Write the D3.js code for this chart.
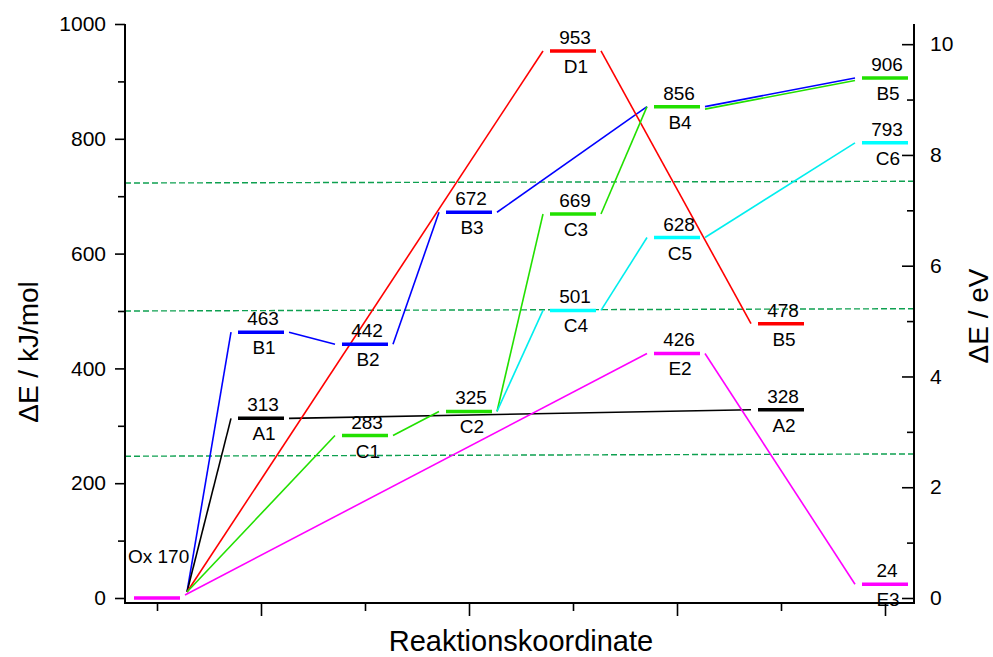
<!DOCTYPE html>
<html>
<head>
<meta charset="utf-8">
<script src="https://cdn.jsdelivr.net/npm/d3@7/dist/d3.min.js"></script>
<style>
  html, body { margin: 0; padding: 0; background: #fff; }
  svg { display: block; font-family: "Liberation Sans", Arial, sans-serif; }
</style>
</head>
<body>
<svg id="chart" width="993" height="657"></svg>
<script>
// ---------------- data ----------------
const levelIds    = ["Ox","A1","B1","B2","C1","C2","B3","D1","C3","C4","B4","C5","E2","B5a","A2","B5b","C6","E3"];
const levelNames  = ["Ox","A1","B1","B2","C1","C2","B3","D1","C3","C4","B4","C5","E2","B5","A2","B5","C6","E3"];
const levelPos    = [0, 1, 1, 2, 2, 3, 3, 4, 4, 4, 5, 5, 5, 6, 6, 7, 7, 7];
const levelValues = [0, 313, 463, 442, 283, 325, 672, 953, 669, 501, 856, 628, 426, 478, 328, 906, 793, 24];
const levelColors = ["#ff00ff","#000000","#0000ff","#0000ff","#22e000","#22e000","#0000ff","#ff0000","#22e000","#00ffff",
                     "#22e000","#00ffff","#ff00ff","#ff0000","#000000","#22e000","#00ffff","#ff00ff"];
const originLabel = "Ox 170";

// reaction pathways (sequence of level ids) and their colours
const pathways = [
  { color: "#0000ff", steps: ["Ox","B1","B2","B3","B4","B5b"] },
  { color: "#000000", steps: ["Ox","A1","A2"] },
  { color: "#ff0000", steps: ["Ox","D1","B5a"] },
  { color: "#22e000", steps: ["Ox","C1","C2","C3","B4","B5b"] },
  { color: "#00eeee", steps: ["C2","C4","C5","C6"] },
  { color: "#ff00ff", steps: ["Ox","E2","E3"] }
];

// dashed reference lines (kJ/mol at left and right end)
const refLeft  = [723, 500, 247];
const refRight = [726, 504, 251];

const leftTicks  = [0, 200, 400, 600, 800, 1000];
const leftMinor  = [100, 300, 500, 700, 900];
const rightTicks = [0, 2, 4, 6, 8, 10];
const rightMinor = [1, 3, 5, 7, 9];
const bottomMajor = [1, 3, 5, 7];
const bottomMinor = [0, 2, 4, 6];
const kJperEV = 96.485;

// ---------------- layout ----------------
const svg = d3.select("#chart");
const L = 125, R = 914, T = 24, B = 603;
const y = d3.scaleLinear().domain([0, 1000]).range([598, 24]);
const yEV = d3.scaleLinear().domain([0, 1000 / kJperEV]).range([598, 24]);
const x = d3.scaleLinear().domain([0, 7]).range([157, 885]);
const halfW = 23;
const fontLbl = 19;

const byId = {};
levelIds.forEach((id, i) => byId[id] = { id, name: levelNames[i], pos: levelPos[i], v: levelValues[i], color: levelColors[i] });

// dashed reference lines
svg.append("g").selectAll("line").data(refLeft).join("line")
  .attr("x1", L).attr("x2", R)
  .attr("y1", d => y(d)).attr("y2", (d, i) => y(refRight[i]))
  .attr("stroke", "#0ea050").attr("stroke-width", 1.4)
  .attr("stroke-dasharray", "6,3");

// connecting lines
const segs = [];
const seen = {};
pathways.forEach(p => {
  for (let k = 0; k < p.steps.length - 1; k++) {
    const a = byId[p.steps[k]], b = byId[p.steps[k + 1]];
    const key = a.id + ">" + b.id;
    const off = seen[key] ? 2.5 : 0;
    seen[key] = true;
    const fan = a.id === "Ox" && p.color !== "#ff00ff";
    segs.push({
      x1: x(a.pos) + halfW + (fan ? 7 : 5),
      y1: y(a.v) - (fan ? 6 : (a.id === "Ox" ? 3 : 0)) + off,
      x2: x(b.pos) - halfW - 7,
      y2: y(b.v) + off,
      color: p.color
    });
  }
});
svg.append("g").selectAll("line").data(segs).join("line")
  .attr("x1", d => d.x1).attr("y1", d => d.y1)
  .attr("x2", d => d.x2).attr("y2", d => d.y2)
  .attr("stroke", d => d.color).attr("stroke-width", 1.6);

// level bars
const levels = levelIds.map(id => byId[id]);
svg.append("g").selectAll("line").data(levels).join("line")
  .attr("x1", d => x(d.pos) - halfW).attr("x2", d => x(d.pos) + halfW)
  .attr("y1", d => y(d.v)).attr("y2", d => y(d.v))
  .attr("stroke", d => d.color).attr("stroke-width", 3.5);

// value & name labels
const lab = levels.filter(d => d.id !== "Ox");
svg.append("g").selectAll("text").data(lab).join("text")
  .attr("x", d => x(d.pos) + 2).attr("y", d => y(d.v) - 7)
  .attr("text-anchor", "middle").attr("font-size", fontLbl)
  .text(d => d.v);
svg.append("g").selectAll("text").data(lab).join("text")
  .attr("x", d => x(d.pos) + 3).attr("y", d => y(d.v) + 22)
  .attr("text-anchor", "middle").attr("font-size", fontLbl)
  .text(d => d.name);
svg.append("text")
  .attr("x", x(0) - 29).attr("y", y(0) - 35)
  .attr("font-size", fontLbl).text(originLabel);

// ---------------- axes ----------------
const axStyle = g => {
  g.select(".domain").remove();
  g.selectAll("line").attr("stroke", "#000").attr("stroke-width", 1.6);
  g.selectAll("text").attr("font-size", 21).attr("fill", "#000")
    .attr("font-family", "'Liberation Sans', Arial, sans-serif");
};
svg.append("g").attr("transform", `translate(${L},0)`)
  .call(d3.axisLeft(y).tickValues(leftTicks).tickSize(10).tickPadding(9).tickFormat(d3.format("d")))
  .call(axStyle);
svg.append("g").attr("transform", `translate(${L},0)`)
  .call(d3.axisLeft(y).tickValues(leftMinor).tickSize(7).tickFormat(""))
  .call(axStyle);
svg.append("g").attr("transform", `translate(${R},0)`)
  .call(d3.axisRight(yEV).tickValues(rightTicks).tickSizeInner(-12).tickSizeOuter(0).tickPadding(16).tickFormat(d3.format("d")))
  .call(axStyle);
svg.append("g").attr("transform", `translate(${R},0)`)
  .call(d3.axisRight(yEV).tickValues(rightMinor).tickSizeInner(-7).tickSizeOuter(0).tickFormat(""))
  .call(axStyle);
svg.append("g").attr("transform", `translate(0,${B})`)
  .call(d3.axisBottom(x).tickValues(bottomMajor).tickSize(13).tickFormat(""))
  .call(axStyle);
svg.append("g").attr("transform", `translate(0,${B})`)
  .call(d3.axisBottom(x).tickValues(bottomMinor).tickSize(8).tickFormat(""))
  .call(axStyle);

// axis frame lines (left, right, bottom)
const frame = svg.append("g").attr("stroke", "#000").attr("stroke-width", 2);
frame.append("line").attr("x1", L).attr("x2", L).attr("y1", T).attr("y2", B + 1);
frame.append("line").attr("x1", R).attr("x2", R).attr("y1", T).attr("y2", B + 1);
frame.append("line").attr("x1", L).attr("x2", R).attr("y1", B).attr("y2", B);

// axis titles
svg.append("text")
  .attr("transform", `translate(38,352) rotate(-90)`)
  .attr("text-anchor", "middle").attr("font-size", 28)
  .text("ΔE / kJ/mol");
svg.append("text")
  .attr("transform", `translate(988,316) rotate(-90)`)
  .attr("text-anchor", "middle").attr("font-size", 28)
  .text("ΔE / eV");
svg.append("text")
  .attr("x", 521).attr("y", 651)
  .attr("text-anchor", "middle").attr("font-size", 29)
  .text("Reaktionskoordinate");
</script>
</body>
</html>
